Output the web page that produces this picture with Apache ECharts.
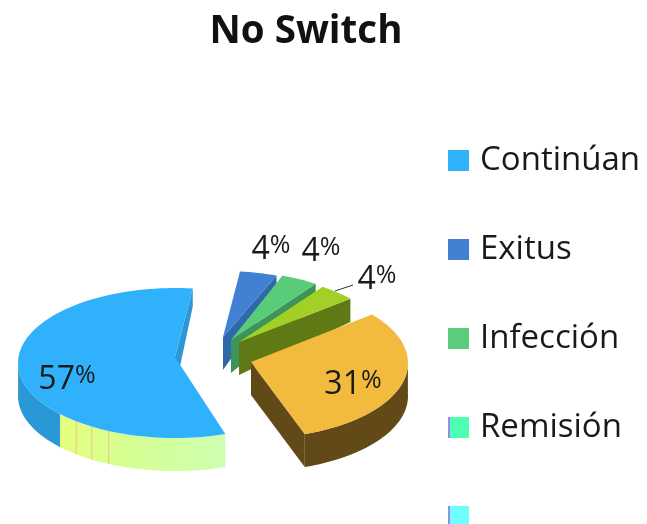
<!DOCTYPE html>
<html>
<head>
<meta charset="utf-8">
<style>
    html, body { margin: 0; padding: 0; background: #fff; }
    #chart { width: 647px; height: 524px; }
</style>
<script src="https://cdn.jsdelivr.net/npm/echarts@6/dist/echarts.min.js"></script>
</head>
<body>
<div id="chart"></div>
<script>
// chart data
const categories = ['Continúan', 'Exitus', 'Infección', 'Remisión', ' '];
const values = [57, 4, 4, 4, 31];

// drawing setup, one entry per slice
const START_ANGLE = 6.5;
const FONT = '"Open Sans", "Noto Sans", sans-serif';
const topColors = ['#2fb2fb', '#4180d2', '#58cc78', '#a2d026', '#f2bb3e'];
const wallColors = ['#2a97d6', '#2f6aa8', '#3c9458', '#5f7a14', '#614a18'];
const legendColors = ['#2fb2fb', '#4180d2', '#5ccb7a', '#4dffb0', '#70ffff'];
const sliceBoxes = [
    { cx: 175, cy: 363, rx: 157, ry: 75, apexDx: 0, lift: 6, labelX: 67, labelY: 380 },
    { cx: 223, cy: 341, rx: 150, ry: 70, apexDx: 0, lift: 4, labelX: 271, labelY: 250 },
    { cx: 229, cy: 341, rx: 150, ry: 70, apexDx: 2, lift: 1, labelX: 321, labelY: 252 },
    { cx: 236, cy: 344, rx: 150, ry: 70, apexDx: 3, lift: 2, labelX: 377, labelY: 280 },
    { cx: 256, cy: 363, rx: 152, ry: 75, apexDx: -5, lift: 1, labelX: 353, labelY: 385 }
];

const total = values.reduce((sum, v) => sum + v, 0);

function sliceAngles(index) {
    let before = 0;
    for (let i = 1; i <= index; i++) {
        before += values[i];
    }
    if (index === 0) {
        let span = values[0] / total * 360;
        return [START_ANGLE - span, START_ANGLE];
    }
    let start = START_ANGLE + (before - values[index]) / total * 360;
    return [start, start + values[index] / total * 360];
}

function rimPoint(box, deg) {
    let rad = deg * Math.PI / 180;
    return [box.cx + box.rx * Math.sin(rad), box.cy - box.ry * Math.cos(rad)];
}

function apexPoint(box) {
    return [box.cx + box.apexDx, box.cy - box.lift];
}

// walls at the back look shorter than the ones at the front
function wallDrop(deg) {
    return 33 - 15 * Math.max(0, Math.cos(deg * Math.PI / 180));
}

function arcPoints(box, from, to) {
    let points = [];
    let steps = Math.max(2, Math.ceil(Math.abs(to - from) / 2));
    for (let i = 0; i <= steps; i++) {
        points.push(rimPoint(box, from + (to - from) * i / steps));
    }
    return points;
}

function outerWall(box, from, to, fill) {
    let upper = arcPoints(box, from, to);
    let lower = upper.map((p, i) => {
        let deg = from + (to - from) * i / (upper.length - 1);
        return [p[0], p[1] + wallDrop(deg)];
    }).reverse();
    return { type: 'polygon', shape: { points: upper.concat(lower) }, style: { fill: fill } };
}

function cutWall(box, deg, fill) {
    let apex = apexPoint(box);
    let tip = rimPoint(box, deg);
    return {
        type: 'polygon',
        shape: { points: [apex, tip, [tip[0], tip[1] + wallDrop(deg)], [apex[0], apex[1] + 33]] },
        style: { fill: fill }
    };
}

function renderSlice(index) {
    let box = sliceBoxes[index];
    let angles = sliceAngles(index);
    let children = [];

    if (index === 0) {
        let frontEdge = angles[0] + 360;
        children.push(cutWall(box, START_ANGLE, wallColors[0]));
        children.push(outerWall(box, 227, 272, wallColors[0]));
        children.push(outerWall(box, frontEdge, 227,
            new echarts.graphic.LinearGradient(1, 0, 0, 0, [
                { offset: 0, color: '#ceffb0' },
                { offset: 0.6, color: '#d6ff92' },
                { offset: 1, color: '#e4ff7c' }
            ])));
        [205, 212, 219].forEach(deg => {
            let p = rimPoint(box, deg);
            children.push({
                type: 'line',
                shape: { x1: p[0], y1: p[1], x2: p[0], y2: p[1] + wallDrop(deg) },
                style: { stroke: '#e8c49c', lineWidth: 1 }
            });
        });
    } else if (index === 4) {
        children.push(cutWall(box, angles[1], wallColors[4]));
        children.push(outerWall(box, 88, angles[1], wallColors[4]));
    } else {
        children.push(cutWall(box, angles[1], wallColors[index]));
    }

    children.push({
        type: 'polygon',
        shape: { points: [apexPoint(box)].concat(arcPoints(box, angles[0], angles[1])) },
        style: { fill: topColors[index] }
    });
    return { type: 'group', children: children };
}

function renderLabel(index) {
    let box = sliceBoxes[index];
    let children = [{
        type: 'text',
        style: {
            x: box.labelX,
            y: box.labelY,
            text: '{d|' + values[index] + '}{p|%}',
            align: 'center',
            verticalAlign: 'middle',
            rich: {
                d: { font: '400 32px ' + FONT, fill: '#1a1a1a', lineHeight: 34 },
                p: { font: '400 25px ' + FONT, fill: '#1a1a1a', verticalAlign: 'top', lineHeight: 27 }
            }
        }
    }];
    if (index === 3) {
        children.push({
            type: 'line',
            shape: { x1: 335, y1: 291, x2: 353, y2: 285 },
            style: { stroke: '#333', lineWidth: 1 }
        });
    }
    return { type: 'group', children: children };
}

// the last two legend squares have a thin purple stripe on their left side
function legendFill(i) {
    if (i < 3) {
        return legendColors[i];
    }
    return new echarts.graphic.LinearGradient(0, 0, 1, 0, [
        { offset: 0, color: '#8f8fe8' },
        { offset: 0.1, color: '#8f8fe8' },
        { offset: 0.1, color: legendColors[i] },
        { offset: 1, color: legendColors[i] }
    ]);
}

let chart = echarts.init(document.getElementById('chart'), null, { renderer: 'canvas' });

let series = categories.map((name, i) => ({
    name: name,
    type: 'custom',
    coordinateSystem: 'none',
    silent: true,
    animation: false,
    clip: false,
    itemStyle: { color: legendColors[i] },
    data: [[values[i]]],
    renderItem: () => renderSlice(i)
}));

// labels go last so that no slice covers them
categories.forEach((name, i) => {
    series.push({
        type: 'custom',
        coordinateSystem: 'none',
        silent: true,
        animation: false,
        data: [[values[i]]],
        renderItem: () => renderLabel(i)
    });
});

chart.setOption({
    backgroundColor: '#fff',
    animation: false,
    title: {
        text: 'No Switch',
        left: 301,
        top: 8,
        textAlign: 'center',
        textStyle: { fontFamily: FONT, fontWeight: 700, fontSize: 38.5, color: '#111' }
    },
    legend: {
        orient: 'vertical',
        left: 448,
        top: 144,
        height: 1000,
        padding: 0,
        icon: 'rect',
        itemWidth: 21,
        itemHeight: 21,
        itemGap: 56,
        selectedMode: false,
        textStyle: { fontFamily: FONT, fontSize: 33, lineHeight: 21, color: '#1a1a1a', padding: [0, 0, 0, 6] },
        data: categories.map((name, i) => ({ name: name, itemStyle: { color: legendFill(i) } }))
    },
    series: series
});
</script>
</body>
</html>
